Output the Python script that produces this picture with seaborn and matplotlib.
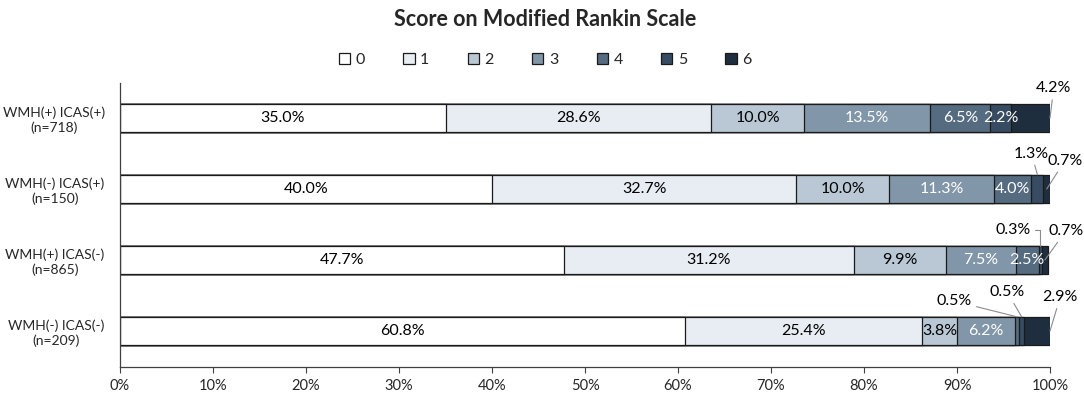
import matplotlib
matplotlib.use("Agg")
import matplotlib.pyplot as plt
from matplotlib.patches import Patch
import numpy as np
import pandas as pd
import seaborn as sns

groups = ["WMH(+) ICAS(+)\n(n=718)", "WMH(-) ICAS(+)\n(n=150)",
          "WMH(+) ICAS(-)\n(n=865)", "WMH(-) ICAS(-)\n(n=209)"]
scores = ["0", "1", "2", "3", "4", "5", "6"]
row1 = [35.0, 28.6, 10.0, 13.5, 6.5, 2.2, 4.2]
row2 = [40.0, 32.7, 10.0, 11.3, 4.0, 1.3, 0.7]
row3 = [47.7, 31.2, 9.9, 7.5, 2.5, 0.3, 0.7]
row4 = [60.8, 25.4, 3.8, 6.2, 0.5, 0.5, 2.9]
xticks = [0, 10, 20, 30, 40, 50, 60, 70, 80, 90, 100]

colors = ["#ffffff", "#e8edf3", "#b9c8d4", "#8196a8", "#546b80", "#374c62", "#1f2e3e"]
text_colors = ["black", "black", "black", "white", "white", "white", "white"]

rows = [row1, row2, row3, row4]
records = []
for g, vals in zip(groups, rows):
    cum = np.cumsum(vals)
    for s, v, c in zip(scores, vals, cum):
        records.append({"group": g, "score": s, "value": v, "cum": c, "start": c - v})
df = pd.DataFrame(records)

sns.set_theme(style="white")
plt.rcParams["font.family"] = ["Lato", "DejaVu Sans"]

fig = plt.figure(figsize=(10.84, 3.94), dpi=100)
ax = fig.add_axes([120 / 1084, 1 - 366.5 / 394, 930 / 1084, 284 / 394])

for k in range(len(scores) - 1, -1, -1):
    sub = df[df["score"] == scores[k]]
    sns.barplot(data=sub, x="cum", y="group", order=groups, color=colors[k],
                saturation=1, edgecolor="#1a1a1a", linewidth=0.9, width=0.4,
                orient="h", ax=ax)

# labels inside bars
outside = {(0, 6), (1, 5), (1, 6), (2, 5), (2, 6), (3, 4), (3, 5), (3, 6)}
for i, vals in enumerate(rows):
    cum = np.cumsum(vals)
    for k, v in enumerate(vals):
        if (i, k) in outside:
            continue
        xc = cum[k] - v / 2
        ax.text(xc, i, f"{v:.1f}%", ha="center", va="center",
                color=text_colors[k], fontsize=11.5)

# callout labels
ap = dict(arrowstyle="-", color="#8c8c8c", lw=0.8, shrinkA=1, shrinkB=0)
callouts = [
    (0, 6, 100.0, 0.0, 100.4, -0.42),
    (1, 5, 98.65, 0.8, 98.0, 0.50),
    (1, 6, 99.65, 1.0, 101.6, 0.60),
    (2, 5, 98.95, 1.8, 96.0, 1.58),
    (2, 6, 99.45, 2.0, 101.7, 1.59),
    (3, 4, 96.45, 2.8, 89.7, 2.58),
    (3, 5, 96.95, 2.8, 95.4, 2.45),
    (3, 6, 100.0, 3.0, 101.1, 2.52),
]
for i, k, x0, y0, tx, ty in callouts:
    v = rows[i][k]
    cs = "angle,angleA=0,angleB=90,rad=0" if (i, k) == (2, 5) else "arc3"
    ax.annotate(f"{v:.1f}%", xy=(x0, y0), xytext=(tx, ty), ha="center", va="center",
                fontsize=11.5, color="black", annotation_clip=False,
                arrowprops=dict(ap, connectionstyle=cs))

ax.set_xlim(0, 100)
ax.set_ylim(3.5, -0.5)
ax.set_xticks(xticks)
ax.set_xticklabels([f"{t}%" for t in xticks], fontsize=10.5)
ax.set_xlabel("")
ax.set_ylabel("")
ax.tick_params(axis="x", which="major", bottom=True, length=4, width=0.8, color="#404040", pad=5)
ax.tick_params(axis="y", left=False, labelsize=10, pad=5)
for lbl in ax.get_yticklabels():
    lbl.set_multialignment("center")
for s in ["top", "right"]:
    ax.spines[s].set_visible(False)
for s in ["left", "bottom"]:
    ax.spines[s].set_color("#404040")
    ax.spines[s].set_linewidth(0.9)

handles = [Patch(facecolor=colors[k], edgecolor="#1a1a1a", linewidth=0.9, label=scores[k])
           for k in range(len(scores))]
fig.legend(handles=handles, loc="center", bbox_to_anchor=(0.503, 1 - 60 / 394), ncol=7,
           frameon=False, fontsize=11.5, handlelength=0.7, handleheight=0.7,
           handletextpad=0.35, columnspacing=2.4)

fig.text(0.503, 1 - 19 / 394, "Score on Modified Rankin Scale", ha="center", va="center",
         fontsize=15.5, fontweight="bold")

fig.savefig("out.png", dpi=100, facecolor="white")
